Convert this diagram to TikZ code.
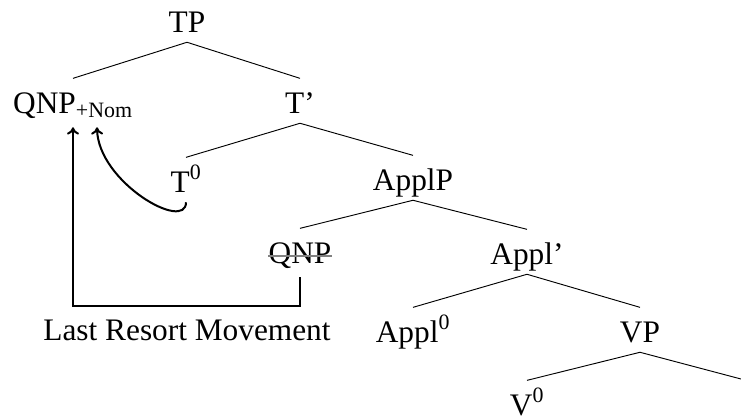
\documentclass[tikz,border=0pt]{standalone}
\usepackage{fontspec}
\setmainfont{Liberation Serif}
\usetikzlibrary{arrows.meta}

\tikzset{
	cat/.style={inner sep=0pt, anchor=base, text height=25.8pt, text depth=7.5pt,
		font=\fontsize{23.5}{28}\selectfont},
	branch/.style={line width=0.7pt},
	move/.style={line width=1.5pt, -{To[length=5.5pt,width=9pt]}}
}

\begin{document}
\begin{tikzpicture}[x=0.75pt, y=-0.75pt]
		\useasboundingbox (0,0) rectangle (741,419);
		\node[cat] (tp) at (187,32) {TP};
		\node[cat] (qnpnom) at (73,113) {QNP\textsubscript{+Nom}};
		\node[cat] (tbar) at (300,113) {T'};
		\node[cat] (tzero) at (186,192) {T\textsuperscript{0}};
		\node[cat] (applp) at (413,190) {ApplP};
		\node[cat] (qnp) at (300,263) {QNP};
		\node[cat] (applbar) at (527,264) {Appl'};
		\node[cat] (applzero) at (413,342) {Appl\textsuperscript{0}};
		\node[cat] (vp) at (640,342) {VP};
		\node[cat, text depth=0pt] (vzero) at (527,415) {V\textsuperscript{0}};
		\node[cat] (lrm) at (187,340) {Last Resort Movement};
		\coordinate (vpend) at (741,379);
		\draw[branch] (tp.south) -- (qnpnom.north);
		\draw[branch] (tp.south) -- (tbar.north);
		\draw[branch] (tbar.south) -- (tzero.north);
		\draw[branch] (tbar.south) -- (applp.north);
		\draw[branch] (applp.south) -- (qnp.north);
		\draw[branch] (applp.south) -- (applbar.north);
		\draw[branch] (applbar.south) -- (applzero.north);
		\draw[branch] (applbar.south) -- (vp.north);
		\draw[branch] (vp.south) -- (vzero.north);
		\draw[branch] (vp.south) -- (vpend);
		\draw[gray, line width=0.9pt] ([yshift=5.25pt]qnp.base west) -- ([yshift=5.25pt]qnp.base east);
		\draw[move] ([yshift=-3pt]qnp.south) -- ++(0,29) -| ([yshift=-3pt]qnpnom.south);
		\draw[move] (tzero.south) .. controls +(0,30) and +(1,55) .. ([xshift=18pt,yshift=-3pt]qnpnom.south);
	\end{tikzpicture}
\end{document}
